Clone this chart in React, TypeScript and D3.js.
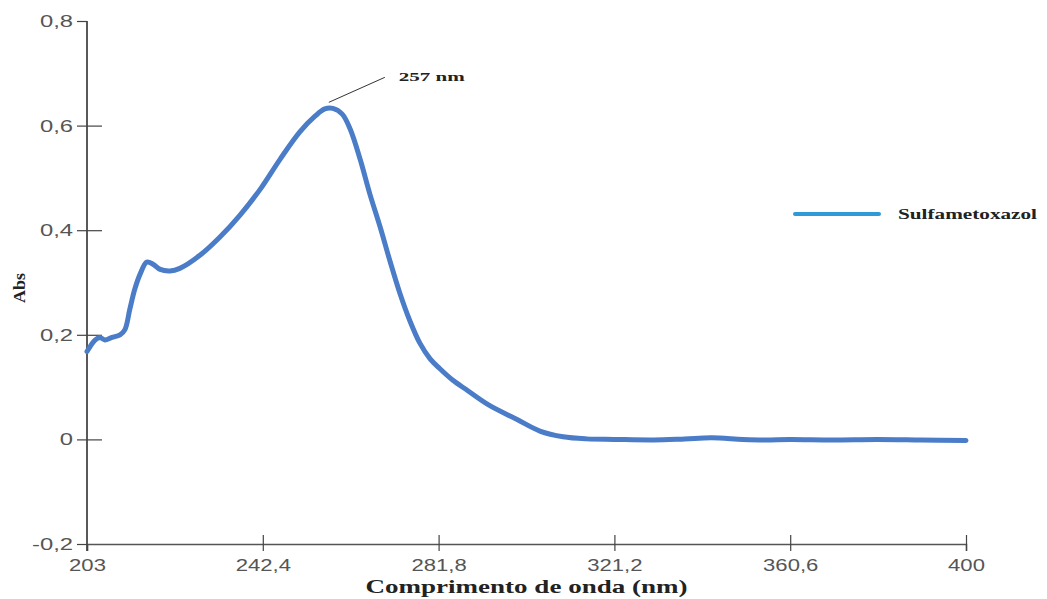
import { useEffect, useRef } from "react";
import * as d3 from "d3";

// wavelength (nm) and absorbance
const wavelengths = [
  203.0, 204.8, 205.9, 207.0, 208.6, 210.4, 211.5, 212.6, 213.7, 214.9,
  216.4, 217.8, 219.4, 221.6, 223.8, 228.3, 232.8, 237.3, 241.8, 246.3,
  250.7, 254.1, 256.3, 258.1, 260.2, 262.0, 264.2, 266.4, 268.7, 270.9,
  273.1, 275.4, 277.6, 279.9, 282.1, 285.0, 288.2, 293.0, 299.4, 304.5,
  309.7, 315.0, 321.2, 330.0, 337.0, 343.0, 350.0, 355.0, 360.6, 370.0,
  380.0, 390.0, 400.0,
];
const absorbance = [
  0.168, 0.19, 0.195, 0.19, 0.195, 0.2, 0.21, 0.249, 0.287, 0.316,
  0.339, 0.335, 0.325, 0.322, 0.327, 0.352, 0.387, 0.429, 0.478, 0.536,
  0.588, 0.618, 0.632, 0.633, 0.622, 0.593, 0.536, 0.469, 0.406, 0.341,
  0.28, 0.226, 0.184, 0.154, 0.135, 0.113, 0.094, 0.066, 0.038, 0.016,
  0.005, 0.001, 0.0, -0.001, 0.001, 0.003, 0.0, -0.001, 0.0, -0.001,
  0.0, -0.001, -0.002,
];

const xTicks = [203, 242.4, 281.8, 321.2, 360.6, 400];
const yTicks = [-0.2, 0, 0.2, 0.4, 0.6, 0.8];
const seriesName = "Sulfametoxazol";
const peakLabel = "257 nm";
const peakX = 257.2;

const W = 1047,
  H = 599;
const margin = { top: 21, right: 81, bottom: 55, left: 87 };

const fmt = (v: number) => String(+v.toFixed(1)).replace(".", ",");

export default function App() {
  const ref = useRef<SVGSVGElement>(null);

  useEffect(() => {
    const svg = d3.select(ref.current);
    svg.selectAll("*").remove();

    const x = d3
      .scaleLinear()
      .domain([203, 400])
      .range([margin.left, W - margin.right]);
    const y = d3
      .scaleLinear()
      .domain([-0.2, 0.8])
      .range([H - margin.bottom, margin.top]);

    const data = wavelengths.map((w, i) => ({ w, a: absorbance[i] }));

    // y axis
    const gy = svg
      .append("g")
      .attr("transform", `translate(${margin.left},0)`)
      .call(
        d3
          .axisLeft(y)
          .tickValues(yTicks)
          .tickFormat((d) => fmt(+d))
          .tickSizeOuter(0)
          .tickSize(10)
      );
    gy.select(".domain")
      .attr("stroke", "#222")
      .attr("stroke-width", 1.5)
      .attr("d", `M0,${y(0.8)}V${y(-0.2) + 7}`);
    gy.selectAll(".tick line")
      .attr("stroke", "#444")
      .attr("stroke-width", 1.2)
      .attr("x1", (d: any) => (d === 0.8 || d === -0.2 ? 0 : 15));
    gy.selectAll(".tick text")
      .attr("x", 0)
      .attr("transform", "translate(-14,0) scale(1.4,1)")
      .attr("fill", "#555")
      .style("font-family", "'Liberation Sans', Arial, sans-serif")
      .style("font-size", "17px");

    // x axis
    const gx = svg
      .append("g")
      .attr("transform", `translate(0,${y(-0.2)})`)
      .call(
        d3
          .axisBottom(x)
          .tickValues(xTicks)
          .tickFormat((d) => fmt(+d))
          .tickSizeOuter(0)
          .tickSize(7)
      );
    gx.select(".domain").attr("stroke", "#555").attr("stroke-width", 1.5);
    gx.selectAll(".tick line")
      .attr("stroke", "#444")
      .attr("stroke-width", 1.2)
      .attr("y1", (d: any) => (d === 203 ? 0 : -9));
    gx.selectAll(".tick text")
      .attr("y", 0)
      .attr("dy", 0)
      .attr("transform", "translate(0,27) scale(1.3,1)")
      .attr("fill", "#555")
      .style("font-family", "'Liberation Sans', Arial, sans-serif")
      .style("font-size", "17px");

    // spectrum
    const line = d3
      .line<{ w: number; a: number }>()
      .x((d) => x(d.w))
      .y((d) => y(d.a))
      .curve(d3.curveCatmullRom.alpha(0.5));
    svg
      .append("path")
      .datum(data)
      .attr("d", line)
      .attr("fill", "none")
      .attr("stroke", "#4a7cc8")
      .attr("stroke-width", 5)
      .attr("stroke-linejoin", "round")
      .attr("stroke-linecap", "round");

    // peak annotation
    const px = x(peakX),
      py = y(0.633) - 6;
    svg
      .append("line")
      .attr("x1", px)
      .attr("y1", py)
      .attr("x2", px + 56)
      .attr("y2", py - 25)
      .attr("stroke", "#333")
      .attr("stroke-width", 1);
    svg
      .append("text")
      .attr("x", px + 70)
      .attr("y", py - 21)
      .attr("textLength", 66)
      .attr("lengthAdjust", "spacingAndGlyphs")
      .style("font-family", "'Liberation Serif', 'Times New Roman', serif")
      .style("font-weight", "bold")
      .style("font-size", "13px")
      .attr("fill", "#222")
      .text(peakLabel);

    // legend
    svg
      .append("line")
      .attr("x1", 795)
      .attr("x2", 879)
      .attr("y1", 214)
      .attr("y2", 214)
      .attr("stroke", "#2f9ad8")
      .attr("stroke-width", 4)
      .attr("stroke-linecap", "round");
    svg
      .append("text")
      .attr("x", 898)
      .attr("y", 219)
      .attr("textLength", 139)
      .attr("lengthAdjust", "spacingAndGlyphs")
      .style("font-family", "'Liberation Serif', 'Times New Roman', serif")
      .style("font-weight", "bold")
      .style("font-size", "14px")
      .attr("fill", "#222")
      .text(seriesName);

    // axis titles
    svg
      .append("text")
      .attr("x", (x(203) + x(400)) / 2)
      .attr("y", 593)
      .attr("text-anchor", "middle")
      .attr("textLength", 322)
      .attr("lengthAdjust", "spacingAndGlyphs")
      .style("font-family", "'Liberation Serif', 'Times New Roman', serif")
      .style("font-weight", "bold")
      .style("font-size", "19px")
      .attr("fill", "#222")
      .text("Comprimento de onda (nm)");
    svg
      .append("text")
      .attr("transform", `translate(25,288) rotate(-90)`)
      .attr("text-anchor", "middle")
      .attr("textLength", 30)
      .attr("lengthAdjust", "spacingAndGlyphs")
      .style("font-family", "'Liberation Serif', 'Times New Roman', serif")
      .style("font-weight", "bold")
      .style("font-size", "17px")
      .attr("fill", "#222")
      .text("Abs");
  }, []);

  return (
    <svg
      ref={ref}
      width={W}
      height={H}
      style={{ position: "absolute", left: 0, top: 0, background: "#fff" }}
    />
  );
}
